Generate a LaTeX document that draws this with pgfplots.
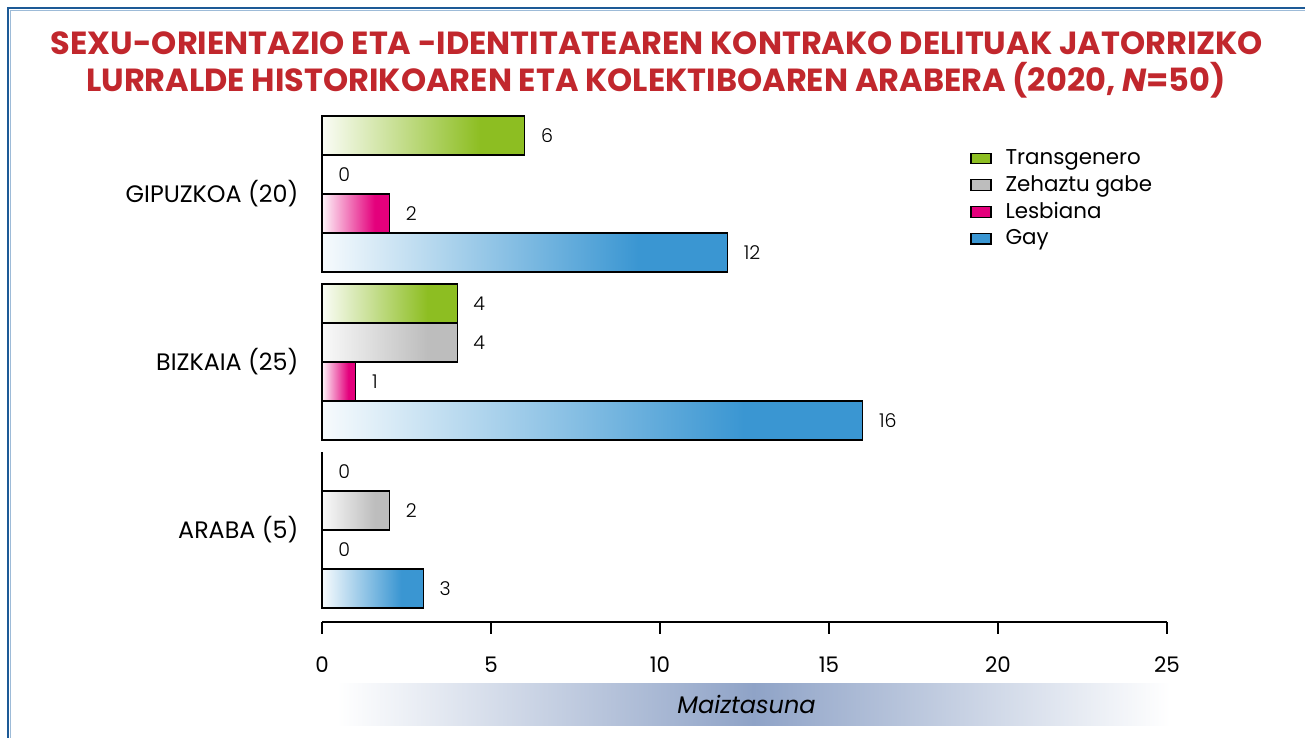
\documentclass[border=0pt]{standalone}
\usepackage{pgfplots}
\pgfplotsset{compat=1.18}
\usepackage{fontspec}
\setmainfont{Poppins}
\newfontfamily\lightfont{Poppins Light}
\definecolor{tgc}{HTML}{8DBE22}
\definecolor{zgc}{HTML}{BDBDBD}
\definecolor{lbc}{HTML}{E4007C}
\definecolor{gyc}{HTML}{3A96D2}
\definecolor{titlered}{HTML}{C1272D}
\definecolor{frameblue}{HTML}{1D5A96}
\definecolor{framelight}{HTML}{9DBBD8}
\definecolor{bandblue}{HTML}{8FA3C7}
\pgfdeclarehorizontalshading{tgshade}{100bp}{color(0bp)=(tgc!4); color(25bp)=(tgc!4); color(64bp)=(tgc); color(100bp)=(tgc)}
\pgfdeclarehorizontalshading{zgshade}{100bp}{color(0bp)=(zgc!8); color(25bp)=(zgc!8); color(64bp)=(zgc); color(100bp)=(zgc)}
\pgfdeclarehorizontalshading{lbshade}{100bp}{color(0bp)=(lbc!4); color(25bp)=(lbc!4); color(64bp)=(lbc); color(100bp)=(lbc)}
\pgfdeclarehorizontalshading{gyshade}{100bp}{color(0bp)=(gyc!4); color(25bp)=(gyc!4); color(64bp)=(gyc); color(100bp)=(gyc)}
\pgfplotsset{/pgf/number format/assume math mode=true,
  legbox/.style={legend image code/.code={\draw[fill=#1, draw=black, line width=0.6pt] (0pt,-2.6pt) rectangle (10pt,2.6pt);}},
  tg/.style={draw=black, line width=0.6pt, shade, shading=tgshade, bar shift=29.25pt, forget plot},
  zg/.style={draw=black, line width=0.6pt, shade, shading=zgshade, bar shift=9.75pt, forget plot},
  lb/.style={draw=black, line width=0.6pt, shade, shading=lbshade, bar shift=-9.75pt, forget plot},
  gy/.style={draw=black, line width=0.6pt, shade, shading=gyshade, bar shift=-29.25pt, forget plot},
  zero/.style={draw=black, line width=0.6pt, fill=none, bar shift=#1, forget plot},
}
\begin{document}
\begin{tikzpicture}
\path[use as bounding box] (0,0) rectangle (652.5pt,369pt);
% frame
\draw[framelight, line width=0.6pt] (5.2pt,0) -- (5.2pt,363.8pt) -- (652.5pt,363.8pt);
\draw[frameblue, line width=1.2pt] (4pt,0) -- (4pt,365pt) -- (652.5pt,365pt);
% title
\node[anchor=base, text=titlered, font=\bfseries\fontsize{16}{18}\selectfont] at (328.5pt,341.5pt)
  {SEXU-ORIENTAZIO ETA -IDENTITATEAREN KONTRAKO DELITUAK JATORRIZKO};
\node[anchor=base, text=titlered, font=\bfseries\fontsize{16}{18}\selectfont] at (328pt,323pt)
  {LURRALDE HISTORIKOAREN ETA KOLEKTIBOAREN ARABERA (2020, \textit{N}=50)};
\begin{axis}[
  at={(161pt,58pt)}, anchor=south west,
  x=16.9pt, y=84pt,
  xmin=0, xmax=25, ymin=-0.5476, ymax=2.6,
  clip=false,
  xbar, bar width=19.5pt,
  axis x line*=bottom, axis y line*=left,
  y axis line style={draw=none},
  x axis line style={line width=1pt},
  xtick={0,5,10,15,20,25},
  ytick={0,1,2},
  yticklabels={ARABA (5),BIZKAIA (25),GIPUZKOA (20)},
  xtick align=outside, major tick length=5.8pt,
  xtick style={line width=1pt, black},
  ytick style={draw=none},
  xticklabel style={font=\fontsize{10.7}{12}\selectfont, yshift=-8pt},
  yticklabel style={font=\fontsize{11.9}{13}\selectfont, xshift=-2.5pt},
  xlabel={\hspace*{-7pt}Maiztasuna},
  xlabel style={font=\itshape\fontsize{12}{13}\selectfont, at={(axis description cs:0.5107,0)}, anchor=center, yshift=-41pt,
     minimum width=416.5pt, minimum height=21pt, inner sep=0pt,
     left color=white, right color=white, middle color=bandblue},
  point meta=x,
  nodes near coords,
  every node near coord/.append style={anchor=west, font=\lightfont\fontsize{9.5}{10}\selectfont, xshift=4.5pt, black},
  legend style={at={(axis cs:19.17,2.29)}, anchor=north west, draw=none, fill=none,
     font=\fontsize{10.7}{12}\selectfont, row sep=0pt, inner sep=0pt,
     nodes={inner xsep=7pt}},
  legend cell align=left,
  legend entries={Transgenero,Zehaztu gabe,Lesbiana,Gay},
]
\addlegendimage{legbox=tgc}
\addlegendimage{legbox=zgc}
\addlegendimage{legbox=lbc}
\addlegendimage{legbox=gyc}
% Transgenero
\addplot[tg] coordinates {(6,2)};
\addplot[tg] coordinates {(4,1)};
\addplot[zero=29.25pt] coordinates {(0,0)};
% Zehaztu gabe
\addplot[zero=9.75pt] coordinates {(0,2)};
\addplot[zg] coordinates {(4,1)};
\addplot[zg] coordinates {(2,0)};
% Lesbiana
\addplot[lb] coordinates {(2,2)};
\addplot[lb] coordinates {(1,1)};
\addplot[zero=-9.75pt] coordinates {(0,0)};
% Gay
\addplot[gy] coordinates {(12,2)};
\addplot[gy] coordinates {(16,1)};
\addplot[gy] coordinates {(3,0)};
\end{axis}
\end{tikzpicture}
\end{document}
